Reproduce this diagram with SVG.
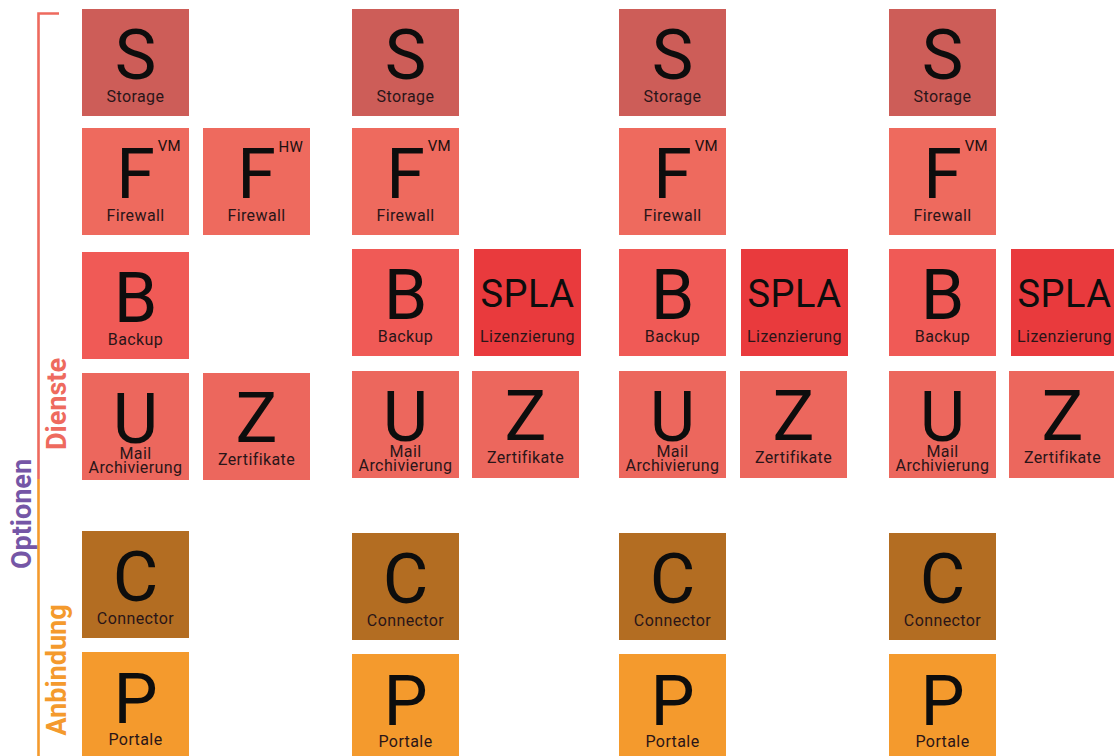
<svg xmlns="http://www.w3.org/2000/svg" width="1114" height="756" viewBox="0 0 1114 756">
<style>
.s{fill:#CD5D58}.f{fill:#EE6A5E}.b{fill:#F05A56}.l{fill:#E93A3D}.u{fill:#EC675D}.c{fill:#B36D22}.p{fill:#F49A2D}
text{font-family:Roboto,"Liberation Sans",sans-serif;text-anchor:middle}
.big{font-size:70px;fill:#0d0d0d}
.spla{font-size:38px;fill:#0d0d0d;letter-spacing:0.5px}
.lab{font-size:16px;fill:#2a1518;letter-spacing:0.4px}
.sup{font-size:15px;fill:#1a1010;text-anchor:end;letter-spacing:0.3px}
.side{font-size:27px;font-weight:bold}
</style>
<defs>
<g id="tS"><rect class="s" width="107" height="107"/><text class="big" x="53.5" y="70">S</text><text class="lab" x="53.5" y="93">Storage</text></g>
<g id="tFV"><rect class="f" width="107" height="107"/><text class="big" x="53.5" y="70">F</text><text class="sup" x="99" y="23">VM</text><text class="lab" x="53.5" y="93">Firewall</text></g>
<g id="tFH"><rect class="f" width="107" height="107"/><text class="big" x="53.5" y="70">F</text><text class="sup" x="100" y="24">HW</text><text class="lab" x="53.5" y="93">Firewall</text></g>
<g id="tB"><rect class="b" width="107" height="107"/><text class="big" x="53.5" y="70">B</text><text class="lab" x="53.5" y="93">Backup</text></g>
<g id="tL"><rect class="l" width="107" height="107"/><text class="spla" x="53.5" y="58">SPLA</text><text class="lab" x="53.5" y="93">Lizenzierung</text></g>
<g id="tU"><rect class="u" width="107" height="107"/><text class="big" x="53.5" y="70">U</text><text class="lab" x="53.5" y="86">Mail</text><text class="lab" x="53.5" y="100">Archivierung</text></g>
<g id="tZ"><rect class="u" width="107" height="107"/><text class="big" x="53.5" y="69">Z</text><text class="lab" x="53.5" y="92">Zertifikate</text></g>
<g id="tC"><rect class="c" width="107" height="107"/><text class="big" x="53.5" y="70">C</text><text class="lab" x="53.5" y="93">Connector</text></g>
<g id="tP"><rect class="p" width="107" height="107"/><text class="big" x="53.5" y="71">P</text><text class="lab" x="53.5" y="93">Portale</text></g>
</defs>
<rect width="1114" height="756" fill="#fff"/>
<g id="bracket" fill="none" stroke-width="2.6">
<path d="M38.5 756 V479" stroke="#F49A2D"/>
<path d="M38.5 479 V13.5 H59" stroke="#EE6A5E"/>
</g>
<g id="labels">
<text class="side" fill="#7556A6" transform="translate(31,514) rotate(-90)">Optionen</text>
<text class="side" fill="#EE6A5E" transform="translate(66,404) rotate(-90)">Dienste</text>
<text class="side" fill="#F49A2D" transform="translate(66,670) rotate(-90)">Anbindung</text>
</g>
<g id="col1">
<use id="c1-storage" href="#tS" x="82" y="9"/>
<use id="c1-firewall-vm" href="#tFV" x="82" y="128"/>
<use id="c1-firewall-hw" href="#tFH" x="203" y="128"/>
<use id="c1-backup" href="#tB" x="82" y="252"/>
<use id="c1-mail" href="#tU" x="82" y="373"/>
<use id="c1-zert" href="#tZ" x="203" y="373"/>
<use id="c1-connector" href="#tC" x="82" y="531"/>
<use id="c1-portale" href="#tP" x="82" y="652"/>
</g>
<g id="col2">
<use id="c2-storage" href="#tS" x="352" y="9"/>
<use id="c2-firewall" href="#tFV" x="352" y="128"/>
<use id="c2-backup" href="#tB" x="352" y="249"/>
<use id="c2-spla" href="#tL" x="474" y="249"/>
<use id="c2-mail" href="#tU" x="352" y="371"/>
<use id="c2-zert" href="#tZ" x="472" y="371"/>
<use id="c2-connector" href="#tC" x="352" y="533"/>
<use id="c2-portale" href="#tP" x="352" y="654"/>
</g>
<g id="col3">
<use id="c3-storage" href="#tS" x="619" y="9"/>
<use id="c3-firewall" href="#tFV" x="619" y="128"/>
<use id="c3-backup" href="#tB" x="619" y="249"/>
<use id="c3-spla" href="#tL" x="741" y="249"/>
<use id="c3-mail" href="#tU" x="619" y="371"/>
<use id="c3-zert" href="#tZ" x="740" y="371"/>
<use id="c3-connector" href="#tC" x="619" y="533"/>
<use id="c3-portale" href="#tP" x="619" y="654"/>
</g>
<g id="col4">
<use id="c4-storage" href="#tS" x="889" y="9"/>
<use id="c4-firewall" href="#tFV" x="889" y="128"/>
<use id="c4-backup" href="#tB" x="889" y="249"/>
<use id="c4-spla" href="#tL" x="1011" y="249"/>
<use id="c4-mail" href="#tU" x="889" y="371"/>
<use id="c4-zert" href="#tZ" x="1009" y="371"/>
<use id="c4-connector" href="#tC" x="889" y="533"/>
<use id="c4-portale" href="#tP" x="889" y="654"/>
</g>
</svg>
